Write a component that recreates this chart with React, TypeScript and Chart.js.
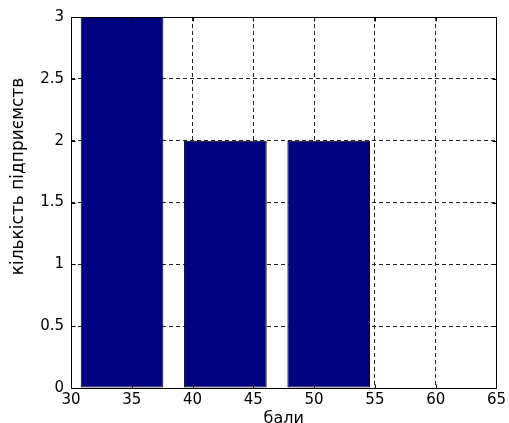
import React, { useEffect, useRef } from "react";
import { Chart, registerables } from "chart.js";

Chart.register(...registerables);

// ---- data ----
const binCenters = [34.2, 42.7, 51.2];
const counts = [3, 2, 2];
const xTickValues = [30, 35, 40, 45, 50, 55, 60, 65];
const yTickValues = [0, 0.5, 1, 1.5, 2, 2.5, 3];
const xTitle = "бали";
const yTitle = "кількість підприємств";

const FONT = "DejaVu Sans";

const framePlugin = {
  id: "matlabFrame",
  afterDatasetsDraw(chart: any) {
    const { ctx, chartArea } = chart;
    const { left, right, top, bottom } = chartArea;
    const xs = chart.scales.x;
    const ys = chart.scales.y;
    const a = (v: number) => Math.round(v) + 0.5;
    ctx.save();
    ctx.setLineDash([]);
    ctx.strokeStyle = "#000";
    ctx.lineWidth = 1;
    ctx.strokeRect(a(left), a(top), Math.round(right) - Math.round(left), Math.round(bottom) - Math.round(top));
    const tl = 4;
    ctx.beginPath();
    xTickValues.forEach((v) => {
      const px = a(xs.getPixelForValue(v));
      ctx.moveTo(px, a(bottom));
      ctx.lineTo(px, a(bottom) - tl);
      ctx.moveTo(px, a(top));
      ctx.lineTo(px, a(top) + tl);
    });
    yTickValues.forEach((v) => {
      const py = a(ys.getPixelForValue(v));
      ctx.moveTo(a(left), py);
      ctx.lineTo(a(left) + tl, py);
      ctx.moveTo(a(right), py);
      ctx.lineTo(a(right) - tl, py);
    });
    ctx.stroke();

    // y-axis title (rotated), placed like the original figure
    ctx.fillStyle = "#000";
    ctx.font = `17px "${FONT}"`;
    ctx.textAlign = "center";
    ctx.textBaseline = "middle";
    ctx.translate(19, top + (bottom - top) * 0.43);
    ctx.rotate(-Math.PI / 2);
    ctx.fillText(yTitle, 0, 0);
    ctx.restore();
  },
};

export default function App() {
  const ref = useRef<HTMLCanvasElement | null>(null);

  useEffect(() => {
    if (!ref.current) return;
    const chart = new Chart(ref.current, {
      type: "bar",
      data: {
        datasets: [
          {
            data: binCenters.map((c, i) => ({ x: c, y: counts[i] })),
            backgroundColor: "#000080",
            borderColor: "#000000",
            borderWidth: 1,
            borderSkipped: false,
            inflateAmount: 0,
            barPercentage: 1.36,
            categoryPercentage: 1,
          },
        ],
      },
      options: {
        responsive: false,
        animation: false,
        layout: { padding: { top: 17, right: 10, left: 0, bottom: 0 } },
        plugins: {
          legend: { display: false },
          tooltip: { enabled: false },
        },
        scales: {
          x: {
            type: "linear",
            min: 30,
            max: 65,
            offset: false,
            afterFit: (s: any) => {
              s.height = 35;
            },
            afterBuildTicks: (s: any) => {
              s.ticks = xTickValues.map((v) => ({ value: v }));
            },
            ticks: {
              padding: 3,
              color: "#000",
              font: { family: FONT, size: 15 },
              callback: (v: any) => String(v),
            },
            grid: {
              color: "#222",
              lineWidth: 1,
              drawTicks: false,
              offset: false,
            },
            border: { display: false, dash: [4, 3] },
            title: {
              display: true,
              text: xTitle,
              color: "#000",
              font: { family: FONT, size: 16 },
              padding: { top: 0, bottom: -5 },
            },
          },
          y: {
            type: "linear",
            min: 0,
            max: 3,
            afterFit: (s: any) => {
              s.width = 71;
            },
            afterBuildTicks: (s: any) => {
              s.ticks = yTickValues.map((v) => ({ value: v }));
            },
            ticks: {
              padding: 7,
              color: "#000",
              font: { family: FONT, size: 15 },
              callback: (v: any) => String(v),
            },
            grid: {
              color: "#222",
              lineWidth: 1,
              drawTicks: false,
            },
            border: { display: false, dash: [4, 3] },
            title: { display: false, text: yTitle },
          },
        },
      },
      plugins: [framePlugin],
    } as any);
    return () => chart.destroy();
  }, []);

  return (
    <div
      style={{
        position: "fixed",
        left: 0,
        top: 0,
        width: 509,
        height: 423,
        background: "#fff",
      }}
    >
      <canvas ref={ref} width={509} height={423} style={{ display: "block" }} />
    </div>
  );
}
